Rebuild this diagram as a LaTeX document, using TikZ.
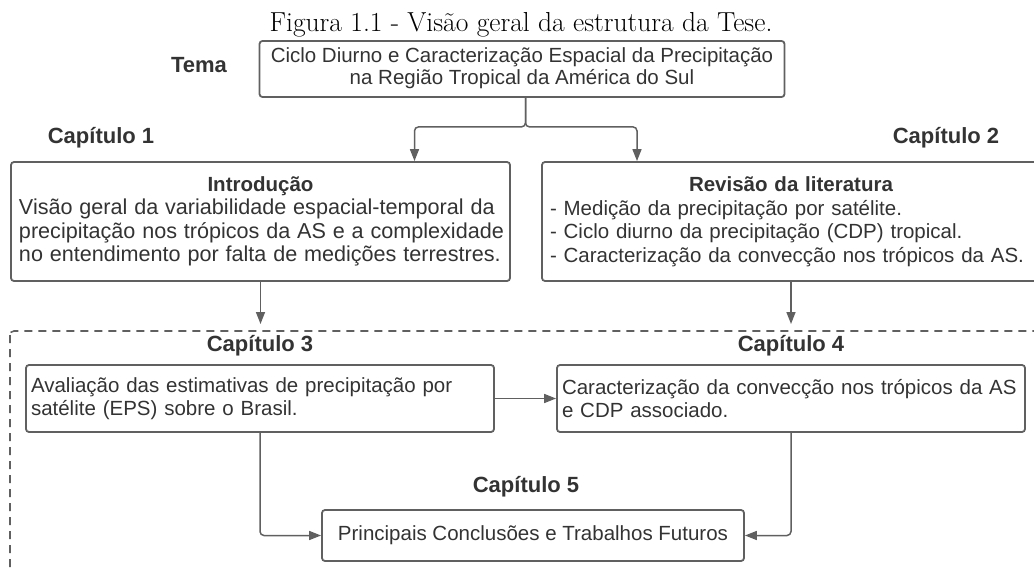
\documentclass[tikz,border=0pt]{standalone}
\usepackage{fontspec}
\newfontfamily\arial{Liberation Sans}
\usetikzlibrary{arrows.meta,calc}
\definecolor{txt}{HTML}{333333}
\definecolor{ln}{HTML}{606060}
\begin{document}
\begin{tikzpicture}[x=1pt,y=-1pt,
  box/.style={draw=ln, line width=1.8pt, rounded corners=3pt, inner sep=0pt, text=txt,
    font=\arial\fontsize{20.5}{23.5}\selectfont},
  lbl/.style={text=txt, font=\arial\bfseries\fontsize{22}{24}\selectfont, inner sep=0pt},
  arr/.style={draw=ln, line width=1.5pt, -{Triangle[length=12pt,width=9pt]}, rounded corners=4pt},
  dashbox/.style={draw=ln, line width=1.6pt, dash pattern=on 8pt off 6pt, rounded corners=4pt},
]
\useasboundingbox (0,0) rectangle (1034,570);
\clip (0,0) rectangle (1034,570);

% caption
\node[font=\fontsize{27.5}{30}\selectfont\addfontfeatures{FakeStretch=1.2}, anchor=base, inner sep=0pt] (cap) at (521,31)
  {Figura 1.1 - Visão geral da estrutura da Tese.};

% dashed frame
\draw[dashbox] (10,331) rectangle (1060,620);

% labels
\node[lbl] (ltema) at (199,65) {Tema};
\node[lbl] (l1) at (101,138) {Capítulo 1};
\node[lbl] (l2) at (946,138) {Capítulo 2};
\node[lbl] (l3) at (260,346) {Capítulo 3};
\node[lbl] (l4) at (791,346) {Capítulo 4};
\node[lbl] (l5) at (526,487) {Capítulo 5};

% boxes
\node[box, minimum width=525pt, minimum height=56pt, align=center] (tema) at (522,69)
  {\raisebox{-3pt}{\begin{tabular}{@{}c@{}}Ciclo Diurno e Caracterização Espacial da Precipitação\\[-1pt]na Região Tropical da América do Sul\end{tabular}}};

\node[box, minimum width=499pt, minimum height=119pt, text width=483pt, inner xsep=8pt, align=left] (intro) at (260.5,221.5)
  {\makebox[\hsize]{\bfseries Introdução}\\
   \fontsize{21.6}{23.5}\selectfont
   \mbox{Visão geral da variabilidade espacial-temporal da}\\
   \mbox{precipitação nos trópicos da AS e a complexidade}\\
   \mbox{no entendimento por falta de medições terrestres.}};

\node[box, minimum width=498pt, minimum height=119pt, text width=482pt, inner xsep=8pt, align=left] (rev) at (791,221.5)
  {\makebox[\hsize]{\bfseries Revisão da literatura}\\
   \mbox{- Medição da precipitação por satélite.}\\
   \mbox{- Ciclo diurno da precipitação (CDP) tropical.}\\
   \mbox{- Caracterização da convecção nos trópicos da AS.}};

\node[box, minimum width=468pt, minimum height=67pt, text width=458pt, inner xsep=5pt, align=left] (cap3) at (260,398.5)
  {\mbox{Avaliação das estimativas de precipitação por}\\\mbox{satélite (EPS) sobre o Brasil.}};

\node[box, minimum width=468pt, minimum height=67pt, text width=458pt, inner xsep=5pt, align=left] (cap4) at (791,398.5)
  {\mbox{Caracterização da convecção nos trópicos da AS}\\\mbox{e CDP associado.}};

\node[box, minimum width=422pt, minimum height=51pt, align=center] (princ) at (533,535.5)
  {Principais Conclusões e Trabalhos Futuros};

% connectors
\draw[arr] ([xshift=3.5pt]tema.south) -- ++(0,29) -| ([xshift=154pt]intro.north);
\draw[arr] ([xshift=3.5pt]tema.south) -- ++(0,29) -| ([xshift=-154pt]rev.north);

\coordinate (e1) at (260.5,324);
\coordinate (e2) at (791,324);
\draw[arr] (intro.south) -- (e1);
\draw[arr] (rev.south) -- (e2);

\draw[arr] (cap3.east) -- (cap4.west);
\draw[arr] (cap3.south) |- (princ.west);
\draw[arr] (cap4.south) |- (princ.east);
\end{tikzpicture}
\end{document}
